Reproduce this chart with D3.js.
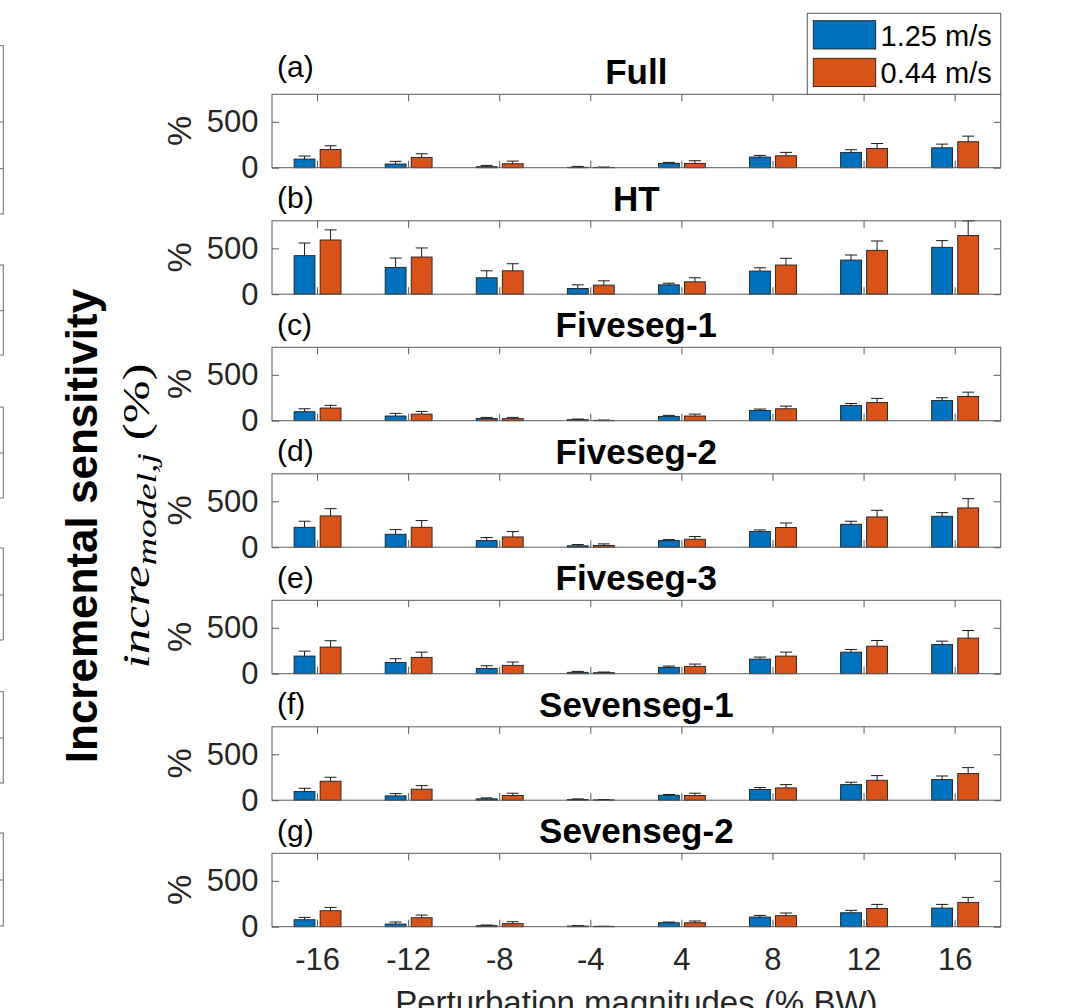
<!DOCTYPE html>
<html><head><meta charset="utf-8">
<script src="https://cdn.jsdelivr.net/npm/d3@7"></script>
<style>body{margin:0;background:#fff} svg{display:block}</style>
</head><body><svg id="chart" width="1075" height="1008"></svg>
<script>
// ---------- data ----------
const categories = ["-16","-12","-8","-4","4","8","12","16"];
const seriesNames = ["1.25 m/s","0.44 m/s"];
const panelLetters = ["(a)","(b)","(c)","(d)","(e)","(f)","(g)"];
const panelTitles = ["Full","HT","Fiveseg-1","Fiveseg-2","Fiveseg-3","Sevenseg-1","Sevenseg-2"];
const yTicks = [0, 500];

const fullFast    = [94, 40, 11, 4, 47, 116, 167, 217];
const fullFastErr = [33, 29, 14, 10, 11, 18, 29, 40];
const fullSlow    = [199, 112, 43, 3, 47, 130, 210, 283];
const fullSlowErr = [40, 40, 29, 4, 29, 37, 54, 61];

const htFast    = [420, 292, 179, 62, 102, 252, 372, 511];
const htFastErr = [138, 102, 76, 40, 18, 36, 55, 73];
const htSlow    = [591, 405, 255, 99, 135, 318, 478, 639];
const htSlowErr = [110, 99, 77, 47, 44, 73, 102, 160];

const five1Fast    = [98, 51, 25, 11, 47, 112, 167, 221];
const five1FastErr = [32, 29, 11, 7, 11, 15, 21, 29];
const five1Slow    = [138, 72, 22, 3, 51, 130, 199, 264];
const five1SlowErr = [29, 29, 14, 4, 21, 29, 44, 47];

const five2Fast    = [217, 141, 72, 15, 72, 170, 250, 337];
const five2FastErr = [66, 51, 33, 14, 11, 18, 33, 40];
const five2Slow    = [341, 217, 112, 18, 87, 214, 330, 428];
const five2SlowErr = [79, 73, 58, 18, 29, 50, 72, 101];

const five3Fast    = [192, 123, 58, 15, 69, 159, 235, 319];
const five3FastErr = [54, 40, 29, 10, 14, 22, 29, 36];
const five3Slow    = [290, 178, 91, 11, 80, 192, 300, 388];
const five3SlowErr = [69, 57, 36, 7, 25, 43, 62, 83];

const seven1Fast    = [94, 47, 15, 7, 54, 116, 170, 225];
const seven1FastErr = [36, 25, 10, 7, 8, 22, 26, 39];
const seven1Slow    = [207, 120, 51, 4, 51, 134, 217, 290];
const seven1SlowErr = [43, 39, 25, 3, 25, 36, 51, 65];

const seven2Fast    = [76, 29, 11, 7, 43, 105, 152, 203];
const seven2FastErr = [25, 22, 7, 4, 8, 18, 26, 40];
const seven2Slow    = [174, 98, 33, 4, 43, 120, 199, 264];
const seven2SlowErr = [36, 29, 21, 0, 19, 29, 44, 55];

const fastSets = [fullFast, htFast, five1Fast, five2Fast, five3Fast, seven1Fast, seven2Fast];
const fastErrSets = [fullFastErr, htFastErr, five1FastErr, five2FastErr, five3FastErr, seven1FastErr, seven2FastErr];
const slowSets = [fullSlow, htSlow, five1Slow, five2Slow, five3Slow, seven1Slow, seven2Slow];
const slowErrSets = [fullSlowErr, htSlowErr, five1SlowErr, five2SlowErr, five3SlowErr, seven1SlowErr, seven2SlowErr];

// ---------- layout / style ----------
const colors = ["#0072BD", "#D95319"];
const axisColor = "#5a5a5a";
const textColor = "#262626";
const sans = "'Liberation Sans', Arial, Helvetica, sans-serif";
const plotLeft = 272, plotRight = 1000.7;
const firstTop = 94.3, panelStep = 126.5, panelH = 73.4;
const tickLen = 7;

const svg = d3.select("#chart");
svg.append("rect").attr("width",1075).attr("height",1008).attr("fill","#fff");

// cropped neighbouring-figure remnants at the far left edge
const remnantBoxes = [[45.7,214,[122,168.7]],[265,355,[310.7]],[407,498,[453]],[548,640,[595]],[691.7,783,[738]],[833,926,[880]]];
const rem = svg.append("g").attr("stroke","#6a6a6a").attr("stroke-width",1).attr("fill","none");
remnantBoxes.forEach(([t,b,inner]) => {
  rem.append("line").attr("x1",3.3).attr("x2",3.3).attr("y1",t).attr("y2",b);
  [t,b].concat(inner).forEach(yy => rem.append("line").attr("x1",0).attr("x2",3.3).attr("y1",yy).attr("y2",yy));
});

const x = d3.scaleBand().domain(categories).range([plotLeft, plotRight]).padding(0);
const bw = x.bandwidth();
const offFrac = 0.143, barFrac = 0.229, capW = 12;

panelTitles.forEach((title, i) => {
  const top = firstTop + i * panelStep;
  const bottom = top + panelH;
  const y = d3.scaleLinear().domain([0, 800]).range([bottom, top]);
  const g = svg.append("g");

  const series = [
    {vals: fastSets[i], errs: fastErrSets[i], color: colors[0], off: -1},
    {vals: slowSets[i], errs: slowErrSets[i], color: colors[1], off: 1}
  ];
  series.forEach(s => {
    const data = categories.map((c, k) => ({c, v: s.vals[k], e: s.errs[k]}));
    const cx = d => x(d.c) + bw / 2 + s.off * offFrac * bw;
    g.selectAll(null).data(data).join("rect")
      .attr("x", d => cx(d) - barFrac * bw / 2)
      .attr("y", d => y(d.v))
      .attr("width", barFrac * bw)
      .attr("height", d => y(0) - y(d.v))
      .attr("fill", s.color)
      .attr("stroke", "#1e1e1e").attr("stroke-width", 0.9);
    const eg = g.append("g").attr("stroke", "#1a1a1a").attr("stroke-width", 1);
    eg.selectAll(null).data(data).join("line")
      .attr("x1", cx).attr("x2", cx)
      .attr("y1", d => y(d.v)).attr("y2", d => y(d.v + d.e));
    eg.selectAll(null).data(data).join("line")
      .attr("x1", d => cx(d) - capW / 2).attr("x2", d => cx(d) + capW / 2)
      .attr("y1", d => y(d.v + d.e)).attr("y2", d => y(d.v + d.e));
  });

  // axes
  const isLast = i === panelTitles.length - 1;
  const bAxis = d3.axisBottom(x).tickSize(-tickLen).tickSizeOuter(0).tickPadding(21.5);
  if (!isLast) bAxis.tickFormat("");
  g.append("g").attr("transform", `translate(0,${bottom})`).call(bAxis);
  g.append("g").attr("transform", `translate(0,${top})`)
    .call(d3.axisTop(x).tickSize(-tickLen).tickSizeOuter(0).tickFormat(""));
  g.append("g").attr("transform", `translate(${plotLeft},0)`)
    .call(d3.axisLeft(y).tickValues(yTicks).tickSize(-tickLen).tickSizeOuter(0).tickPadding(13.5));
  g.append("g").attr("transform", `translate(${plotRight},0)`)
    .call(d3.axisRight(y).tickValues(yTicks).tickSize(-tickLen).tickSizeOuter(0).tickFormat(""));
  g.selectAll(".domain").remove();
  g.selectAll(".tick line").attr("stroke", axisColor);
  g.selectAll(".tick text").attr("fill", textColor).style("font-family", sans).style("font-size", "31px");
  g.append("rect").attr("x", plotLeft).attr("y", top)
    .attr("width", plotRight - plotLeft).attr("height", panelH)
    .attr("fill", "none").attr("stroke", axisColor).attr("stroke-width", 1);

  // y label "%"
  g.append("text")
    .attr("transform", `translate(191,${(top + bottom) / 2}) rotate(-90)`)
    .attr("text-anchor", "middle")
    .style("font-family", sans).style("font-size", "34px").attr("fill", textColor)
    .text("%");

  // title
  g.append("text").attr("x", (plotLeft + plotRight) / 2).attr("y", top - 10)
    .attr("text-anchor", "middle")
    .style("font-family", sans).style("font-size", "35px").style("font-weight", "bold")
    .attr("fill", "#000").text(title);

  // panel letter
  g.append("text").attr("x", 277).attr("y", top - (i === 0 ? 17 : 12.5))
    .style("font-family", sans).style("font-size", "30px")
    .attr("fill", "#000").text(panelLetters[i]);
});

// x label
svg.append("text").attr("x", (plotLeft + plotRight) / 2).attr("y", 1014)
  .attr("text-anchor", "middle")
  .style("font-family", sans).style("font-size", "33px").attr("fill", textColor)
  .text("Perturbation magnitudes (% BW)");

// big y label
svg.append("text")
  .attr("transform", "translate(97,526) rotate(-90)")
  .attr("text-anchor", "middle")
  .style("font-family", sans).style("font-size", "44px").style("font-weight", "bold")
  .attr("fill", "#000").text("Incremental sensitivity");

// math y label
const ml = svg.append("text")
  .attr("text-anchor", "start")
  .style("font-family", "'Liberation Serif', 'DejaVu Serif', serif").style("font-size", "38px")
  .attr("fill", "#000");
ml.append("tspan").style("font-style", "italic").text("incre");
ml.append("tspan").style("font-style", "italic").style("font-size", "28px").attr("dy", 7).text("model,j");
ml.append("tspan").attr("dy", -7).text("\u00A0(%)");
const mlLen = ml.node().getComputedTextLength();
const targetLen = 305, mlCenter = 516;
const sx = targetLen / mlLen;
ml.attr("transform", `translate(149,${mlCenter + targetLen / 2}) rotate(-90) scale(${sx},1)`);

// legend
const lg = svg.append("g");
lg.append("rect").attr("x", 807.3).attr("y", 13.3).attr("width", 193.4).attr("height", 81)
  .attr("fill", "#fff").attr("stroke", axisColor).attr("stroke-width", 1);
seriesNames.forEach((n, k) => {
  const yy = 20.7 + k * 37.6;
  lg.append("rect").attr("x", 813.3).attr("y", yy).attr("width", 62.4).attr("height", 28.3)
    .attr("fill", colors[k]).attr("stroke", "#1e1e1e").attr("stroke-width", 0.9);
  lg.append("text").attr("x", 880.5).attr("y", yy + 25)
    .style("font-family", sans).style("font-size", "29px").attr("fill", "#000").text(n);
});
</script></body></html>
